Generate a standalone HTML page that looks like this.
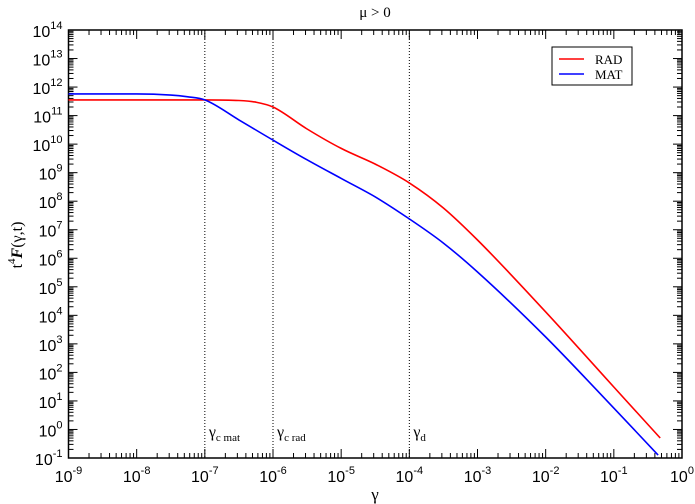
<!DOCTYPE html>
<html><head><meta charset="utf-8"><style>
body{margin:0;background:#fff}
svg{display:block;font-family:"Liberation Serif",serif}
.t{font-family:"Liberation Sans",sans-serif;font-size:16px}
</style></head><body>
<svg id="c" width="695" height="504" xmlns="http://www.w3.org/2000/svg"></svg>
<script>
const radX=[-9,-8,-7,-6.5,-6.25,-6,-5.5,-5,-4.5,-4,-3.5,-3,-2,-1,-0.32];
const radY=[11.55,11.55,11.55,11.53,11.47,11.3,10.53,9.85,9.3,8.64,7.76,6.64,4.12,1.49,-0.3];
const matX=[-9,-8,-7.5,-7.25,-7,-6.5,-6,-5.5,-5,-4.5,-4,-3.5,-3,-2,-1,-0.35];
const matY=[11.76,11.76,11.72,11.66,11.55,10.85,10.14,9.45,8.8,8.15,7.38,6.53,5.52,3.24,0.75,-0.9];
const xTicks=[-9,-8,-7,-6,-5,-4,-3,-2,-1,0];
const yTicks=[-1,0,1,2,3,4,5,6,7,8,9,10,11,12,13,14];
const vlines=[-7,-6,-4];
const vlabels=[["c mat"],["c rad"],["d"]];
const L=68.5,R=682,T=30,B=458;
const X=v=>L+(v+9)/9*(R-L);
const Y=v=>B-(v+1)/15*(B-T);
const s=document.getElementById('c');
const NS='http://www.w3.org/2000/svg';
function el(t,a,p){const e=document.createElementNS(NS,t);for(const k in a)e.setAttribute(k,a[k]);(p||s).appendChild(e);return e;}
vlines.forEach((v,i)=>{
 const l=el('line',{x1:X(v),x2:X(v),y1:T,y2:B,stroke:'#000','stroke-width':1,'stroke-dasharray':'1,2'});
 
 
 const t=el('text',{x:X(v)+4,y:437,'font-size':16});
 
 
 t.innerHTML='γ<tspan font-size="11" dy="4">'+vlabels[i][0]+'</tspan>';
});
const ax=el('g',{stroke:'#000','stroke-width':1});


xTicks.forEach(v=>{
 const x=X(v);
 el('line',{x1:x,x2:x,y1:B,y2:B-9},ax);el('line',{x1:x,x2:x,y1:T,y2:T+9},ax);
 if(v<0)for(let k=2;k<10;k++){const xm=X(v+Math.log10(k));el('line',{x1:xm,x2:xm,y1:B,y2:B-5},ax);el('line',{x1:xm,x2:xm,y1:T,y2:T+5},ax);}
 const t=el('text',{x:x,y:482,'text-anchor':'middle',class:'t'});
 
 
 t.innerHTML='10<tspan font-size="11" dy="-8">'+(v===0?'0':v)+'</tspan>';
});
yTicks.forEach(v=>{
 const y=Y(v);
 el('line',{x1:L,x2:L+9,y1:y,y2:y},ax);el('line',{x1:R,x2:R-9,y1:y,y2:y},ax);
 if(v<14)for(let k=2;k<10;k++){const ym=Y(v+Math.log10(k));el('line',{x1:L,x2:L+5,y1:ym,y2:ym},ax);el('line',{x1:R,x2:R-5,y1:ym,y2:ym},ax);}
 const t=el('text',{x:L-6,y:y+7,'text-anchor':'end',class:'t'});
 
 
 t.innerHTML='10<tspan font-size="11" dy="-8">'+v+'</tspan>';
});
el('rect',{x:L,y:T,width:R-L,height:B-T,fill:'none',stroke:'#000','stroke-width':1.5});
// monotone cubic (Fritsch-Carlson) in pixel space
function path(xs,ys,c,n){
 const px=xs.map(X),py=ys.map(Y),N=px.length;
 const dl=[],m=[];
 for(let i=0;i<N-1;i++)dl.push((py[i+1]-py[i])/(px[i+1]-px[i]));
 m[0]=dl[0];m[N-1]=dl[N-2];
 for(let i=1;i<N-1;i++){m[i]=(dl[i-1]*dl[i]<=0)?0:(dl[i-1]+dl[i])/2;}
 for(let i=0;i<N-1;i++){
  if(dl[i]===0){m[i]=0;m[i+1]=0;continue;}
  const a=m[i]/dl[i],b=m[i+1]/dl[i],h=a*a+b*b;
  if(h>9){const t=3/Math.sqrt(h);m[i]=t*a*dl[i];m[i+1]=t*b*dl[i];}
 }
 let d='M'+px[0].toFixed(1)+','+py[0].toFixed(1);
 for(let i=0;i<N-1;i++){
  const h=(px[i+1]-px[i])/3;
  d+='C'+(px[i]+h).toFixed(1)+','+(py[i]+m[i]*h).toFixed(1)+' '+(px[i+1]-h).toFixed(1)+','+(py[i+1]-m[i+1]*h).toFixed(1)+' '+px[i+1].toFixed(1)+','+py[i+1].toFixed(1);
 }
 const p=el('path',{d:d,fill:'none',stroke:c,'stroke-width':1.6,'stroke-linejoin':'round'});
 
 
}
path(radX,radY,'#f00','rad-line');
path(matX,matY,'#00f','mat-line');
const lg=el('g',{});


el('rect',{x:552,y:47,width:80,height:38,fill:'#fff',stroke:'#000'},lg);
el('line',{x1:559,x2:584,y1:59,y2:59,stroke:'#f00','stroke-width':1.6},lg);
el('line',{x1:559,x2:584,y1:74,y2:74,stroke:'#00f','stroke-width':1.6},lg);
const t1=el('text',{x:595,y:64,'font-size':13},lg);t1.textContent='RAD';
const t2=el('text',{x:595,y:79,'font-size':13},lg);t2.textContent='MAT';
const ti=el('text',{x:375,y:17,'text-anchor':'middle','font-size':15});


ti.textContent='μ > 0';
const xt=el('text',{x:375,y:500,'text-anchor':'middle','font-size':17});


xt.textContent='γ';
const yt=el('text',{transform:'translate(22,245) rotate(-90)','text-anchor':'middle','font-size':16});


yt.innerHTML='t<tspan font-size="11" dy="-7">4</tspan><tspan dy="7" font-style="italic" font-weight="bold">F</tspan>(γ,t)';
</script>
</body></html>
